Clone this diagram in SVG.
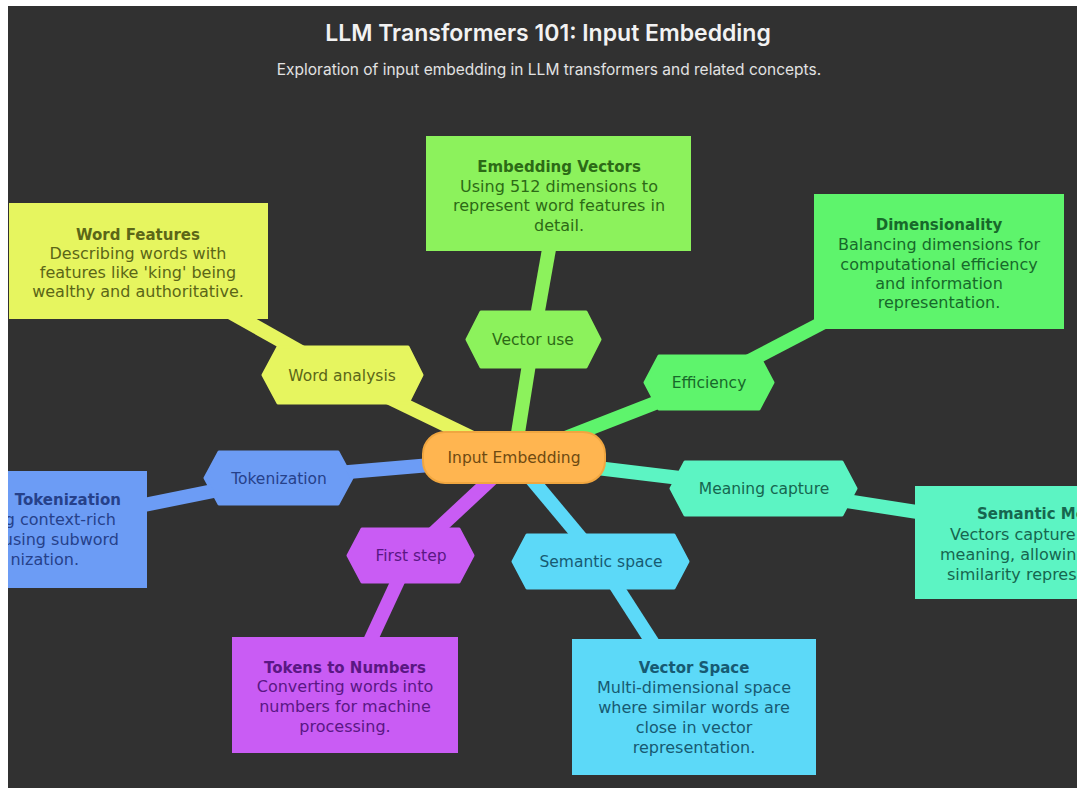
<svg xmlns="http://www.w3.org/2000/svg" width="1077" height="788" viewBox="0 0 1077 788">
  <style>
    .title { font-family: Inter, "Liberation Sans", sans-serif; font-weight: 600; font-size: 23px; fill: #f2f2f2; text-anchor: middle; }
    .subtitle { font-family: Inter, "Liberation Sans", sans-serif; font-size: 15.5px; fill: #e2e2e2; text-anchor: middle; }
    .lbl { font-family: "DejaVu Sans", Verdana, sans-serif; font-size: 15.5px; text-anchor: middle; }
    .leaf { font-family: "DejaVu Sans", Verdana, sans-serif; font-size: 16px; text-anchor: middle; }
    .leaf .h { font-weight: bold; font-size: 15px; }
    .conn line { stroke-width: 14; stroke-linecap: butt; }
    .hex { stroke-width: 3; stroke-linejoin: round; }
    .box { stroke-width: 2; }
    .yel { fill: #e6f55f; stroke: #e6f55f; }
    .gr1 { fill: #8cf25c; stroke: #8cf25c; }
    .gr2 { fill: #5ef46c; stroke: #5ef46c; }
    .tea { fill: #5cf4c3; stroke: #5cf4c3; }
    .cya { fill: #5cd9f8; stroke: #5cd9f8; }
    .pur { fill: #c95cf4; stroke: #c95cf4; }
    .blu { fill: #6c9cf5; stroke: #6c9cf5; }
    .t-yel { fill: #5b6617; }
    .t-gr1 { fill: #2c6a16; }
    .t-gr2 { fill: #17692a; }
    .t-tea { fill: #16664f; }
    .t-cya { fill: #175a72; }
    .t-pur { fill: #5a1784; }
    .t-blu { fill: #26418a; }
    .t-org { fill: #6e4a12; }
  </style>
  <defs>
    <clipPath id="frame">
      <rect x="8" y="6" width="1069" height="782"/>
    </clipPath>
  </defs>

  <rect x="0" y="0" width="1077" height="788" fill="#ffffff"/>
  <rect x="8" y="6" width="1069" height="782" fill="#313131"/>

  <g clip-path="url(#frame)">
    <g id="title">
      <text class="title" x="548" y="41">LLM Transformers 101: Input Embedding</text>
      <text class="subtitle" x="549" y="75">Exploration of input embedding in LLM transformers and related concepts.</text>
    </g>

    <!-- branch connectors: hub to topic, topic to detail -->
    <g id="connectors" class="conn">
      <line x1="514" y1="458" x2="342" y2="375" stroke="#e6f55f"/>
      <line x1="342" y1="375" x2="137" y2="260" stroke="#e6f55f"/>
      <line x1="514" y1="458" x2="533" y2="339" stroke="#8cf25c"/>
      <line x1="533" y1="339" x2="559" y2="193" stroke="#8cf25c"/>
      <line x1="514" y1="458" x2="709" y2="382" stroke="#5ef46c"/>
      <line x1="709" y1="382" x2="939" y2="262" stroke="#5ef46c"/>
      <line x1="514" y1="458" x2="278" y2="478" stroke="#6c9cf5"/>
      <line x1="278" y1="478" x2="30" y2="528" stroke="#6c9cf5"/>
      <line x1="514" y1="458" x2="763" y2="488" stroke="#5cf4c3"/>
      <line x1="763" y1="488" x2="1122" y2="544" stroke="#5cf4c3"/>
      <line x1="514" y1="458" x2="410" y2="555" stroke="#c95cf4"/>
      <line x1="410" y1="555" x2="345" y2="695" stroke="#c95cf4"/>
      <line x1="514" y1="458" x2="600" y2="561" stroke="#5cd9f8"/>
      <line x1="600" y1="561" x2="694" y2="707" stroke="#5cd9f8"/>
    </g>

    <!-- detail boxes -->
    <g id="word-features" class="leaf">
      <rect class="box yel" x="10" y="204" width="257" height="114" stroke="#c9d84a"/>
      <text class="t-yel" x="138"><tspan class="h" x="138" y="240">Word Features</tspan><tspan x="138" y="259">Describing words with</tspan><tspan x="138" y="278">features like 'king' being</tspan><tspan x="138" y="297">wealthy and authoritative.</tspan></text>
    </g>

    <g id="embedding-vectors" class="leaf">
      <rect class="box gr1" x="427" y="137" width="263" height="113" stroke="#74d448"/>
      <text class="t-gr1" x="559"><tspan class="h" x="559" y="172">Embedding Vectors</tspan><tspan x="559" y="192">Using 512 dimensions to</tspan><tspan x="559" y="211">represent word features in</tspan><tspan x="559" y="231">detail.</tspan></text>
    </g>

    <g id="dimensionality" class="leaf">
      <rect class="box gr2" x="815" y="195" width="248" height="133" stroke="#48d258"/>
      <text class="t-gr2" x="939"><tspan class="h" x="939" y="230">Dimensionality</tspan><tspan x="939" y="250">Balancing dimensions for</tspan><tspan x="939" y="270">computational efficiency</tspan><tspan x="939" y="289">and information</tspan><tspan x="939" y="308">representation.</tspan></text>
    </g>

    <g id="subword-tokenization" class="leaf">
      <rect class="box blu" x="-100" y="472" width="246" height="115" stroke="#5580d6"/>
      <text class="t-blu" style="text-anchor:end"><tspan class="h" x="121" y="505">Tokenization</tspan><tspan x="116" y="525">g context-rich</tspan><tspan x="119" y="545">using subword</tspan><tspan x="79" y="565">nization.</tspan></text>
    </g>

    <g id="semantic-meaning" class="leaf">
      <rect class="box tea" x="916" y="487" width="200" height="111" stroke="#46d4a4"/>
      <text class="t-tea" style="text-anchor:start"><tspan class="h" x="977" y="519">Semantic Me</tspan><tspan x="950" y="540">Vectors capture</tspan><tspan x="940" y="560">meaning, allowin</tspan><tspan x="947" y="580">similarity repres</tspan></text>
    </g>

    <g id="tokens-to-numbers" class="leaf">
      <rect class="box pur" x="233" y="638" width="224" height="114" stroke="#a946d4"/>
      <text class="t-pur" x="345"><tspan class="h" x="345" y="673">Tokens to Numbers</tspan><tspan x="345" y="692">Converting words into</tspan><tspan x="345" y="712">numbers for machine</tspan><tspan x="345" y="732">processing.</tspan></text>
    </g>

    <g id="vector-space" class="leaf">
      <rect class="box cya" x="573" y="640" width="242" height="134" stroke="#46b8d6"/>
      <text class="t-cya" x="694"><tspan class="h" x="694" y="673">Vector Space</tspan><tspan x="694" y="693">Multi-dimensional space</tspan><tspan x="694" y="713">where similar words are</tspan><tspan x="694" y="733">close in vector</tspan><tspan x="694" y="753">representation.</tspan></text>
    </g>

    <!-- topic hexagons -->
    <g id="word-analysis">
      <polygon class="hex yel" points="263,375 278,347 408,347 422,375 408,403 278,403"/>
      <text class="lbl t-yel" x="342" y="381">Word analysis</text>
    </g>
    <g id="vector-use">
      <polygon class="hex gr1" points="467,339.5 481,312 586,312 600,339.5 586,367 481,367"/>
      <text class="lbl t-gr1" x="533" y="345">Vector use</text>
    </g>
    <g id="efficiency">
      <polygon class="hex gr2" points="645,382.5 659,356 759,356 773,382.5 759,409 659,409"/>
      <text class="lbl t-gr2" x="709" y="388">Efficiency</text>
    </g>
    <g id="tokenization">
      <polygon class="hex blu" points="205,478 219,452 338,452 352,478 338,504 219,504"/>
      <text class="lbl t-blu" x="279" y="484">Tokenization</text>
    </g>
    <g id="meaning-capture">
      <polygon class="hex tea" points="671,488.5 685,462 842,462 856,488.5 842,515 685,515"/>
      <text class="lbl t-tea" x="764" y="494">Meaning capture</text>
    </g>
    <g id="first-step">
      <polygon class="hex pur" points="348,555.5 362,529 459,529 473,555.5 459,582 362,582"/>
      <text class="lbl t-pur" x="411" y="561">First step</text>
    </g>
    <g id="semantic-space">
      <polygon class="hex cya" points="513,561.5 527,535 674,535 688,561.5 674,588 527,588"/>
      <text class="lbl t-cya" x="601" y="567">Semantic space</text>
    </g>

    <!-- hub -->
    <g id="input-embedding">
      <rect x="423" y="432" width="182" height="51" rx="22" fill="#ffb550" stroke="#f0a640" stroke-width="2"/>
      <text class="lbl t-org" x="514" y="463">Input Embedding</text>
    </g>
  </g>
</svg>
